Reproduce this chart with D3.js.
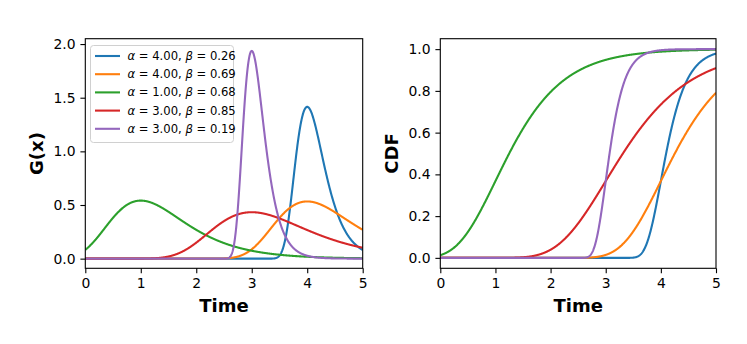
<!DOCTYPE html>
<html>
<head>
<meta charset="utf-8">
<script src="https://cdn.jsdelivr.net/npm/d3@7"></script>
<style>
  body { margin: 0; background: #fff; }
  svg { font-family: "DejaVu Sans", sans-serif; }
</style>
</head>
<body>
<svg width="747" height="344"></svg>
<script>
// legend parameters (location alpha, scale beta)
var alphas = [4.00, 4.00, 1.00, 3.00, 3.00];
var betas = [0.26, 0.69, 0.68, 0.85, 0.19];
var colors = ["#1f77b4", "#ff7f0e", "#2ca02c", "#d62728", "#9467bd"];

var xTicks = [0, 1, 2, 3, 4, 5];
var pdfTicks = [0, 0.5, 1.0, 1.5, 2.0];
var cdfTicks = [0, 0.2, 0.4, 0.6, 0.8, 1.0];

// Gumbel density and distribution function
function gumbelPdf(x, a, b) {
  var z = (x - a) / b;
  return Math.exp(-(z + Math.exp(-z))) / b;
}
function gumbelCdf(x, a, b) {
  return Math.exp(-Math.exp(-(x - a) / b));
}

var xs = d3.range(0, 5.0001, 0.005);

var svg = d3.select("svg");

function panel(opts) {
  var x = d3.scaleLinear().domain([0, 5]).range([opts.left, opts.right]);
  var y = d3.scaleLinear().domain(opts.ydom).range([268.3, 38.7]);
  var g = svg.append("g");

  var clipId = "clip" + opts.id;
  svg.append("clipPath").attr("id", clipId)
    .append("rect")
    .attr("x", opts.left).attr("y", 38.7)
    .attr("width", opts.right - opts.left).attr("height", 268.3 - 38.7);

  var line = d3.line()
    .x(function(d) { return x(d[0]) })
    .y(function(d) { return y(d[1]) });

  alphas.forEach(function(a, i) {
    var pts = xs.map(function(v) { return [v, opts.fn(v, a, betas[i])] });
    g.append("path")
      .datum(pts)
      .attr("clip-path", "url(#" + clipId + ")")
      .attr("fill", "none")
      .attr("stroke", colors[i])
      .attr("stroke-width", 2.1)
      .attr("stroke-linejoin", "round")
      .attr("stroke-linecap", "butt")
      .attr("d", line);
  });

  // axes
  var xa = g.append("g")
    .attr("transform", "translate(0,268.3)")
    .call(d3.axisBottom(x).tickValues(xTicks).tickFormat(d3.format("d")).tickSize(4.9).tickPadding(4.9));
  var ya = g.append("g")
    .attr("transform", "translate(" + opts.left + ",0)")
    .call(d3.axisLeft(y).tickValues(opts.yticks).tickFormat(d3.format(".1f")).tickSize(4.9).tickPadding(4.9));
  [xa, ya].forEach(function(a) {
    a.select(".domain").remove();
    a.selectAll("line").attr("stroke", "#000").attr("stroke-width", 1.1);
    a.selectAll("text").attr("fill", "#000").style("font-size", "13.9px")
      .style("font-family", "DejaVu Sans");
  });

  // frame
  g.append("rect")
    .attr("x", opts.left).attr("y", 38.7)
    .attr("width", opts.right - opts.left).attr("height", 268.3 - 38.7)
    .attr("fill", "none").attr("stroke", "#000").attr("stroke-width", 1.1);

  g.append("text")
    .attr("x", (opts.left + opts.right) / 2).attr("y", 312)
    .attr("text-anchor", "middle")
    .style("font-size", "18px").style("font-weight", "bold")
    .text("Time");

  g.append("text")
    .attr("transform", "translate(" + opts.ylabX + "," + y((opts.ydom[0] + opts.ydom[1]) / 2) + ") rotate(-90)")
    .attr("text-anchor", "middle")
    .style("font-size", "18px").style("font-weight", "bold")
    .text(opts.ylabel);

  return g;
}

var left = panel({ id: 1, left: 85.3, right: 362.7, ydom: [-0.09, 2.05], yticks: pdfTicks,
  fn: gumbelPdf, ylabel: "G(x)", ylabX: 42.5 });
panel({ id: 2, left: 440.3, right: 716, ydom: [-0.05, 1.05], yticks: cdfTicks,
  fn: gumbelCdf, ylabel: "CDF", ylabX: 398 });

// legend
var lg = left.append("g");
lg.append("rect")
  .attr("x", 90.5).attr("y", 45.5).attr("width", 143).attr("height", 97)
  .attr("rx", 3).attr("fill", "#fff").attr("fill-opacity", 0.8)
  .attr("stroke", "#d0d0d0").attr("stroke-width", 1);
alphas.forEach(function(a, i) {
  var yy = 56 + i * 18.2;
  lg.append("line")
    .attr("x1", 95).attr("x2", 120).attr("y1", yy).attr("y2", yy)
    .attr("stroke", colors[i]).attr("stroke-width", 2.1);
  var t = lg.append("text")
    .attr("x", 127.5).attr("y", yy + 4)
    .style("font-size", "11.6px");
  t.append("tspan").style("font-style", "italic").text("α");
  t.append("tspan").text(" = " + a.toFixed(2) + ", ");
  t.append("tspan").style("font-style", "italic").text("β");
  t.append("tspan").text(" = " + betas[i].toFixed(2));
});
</script>
</body>
</html>
